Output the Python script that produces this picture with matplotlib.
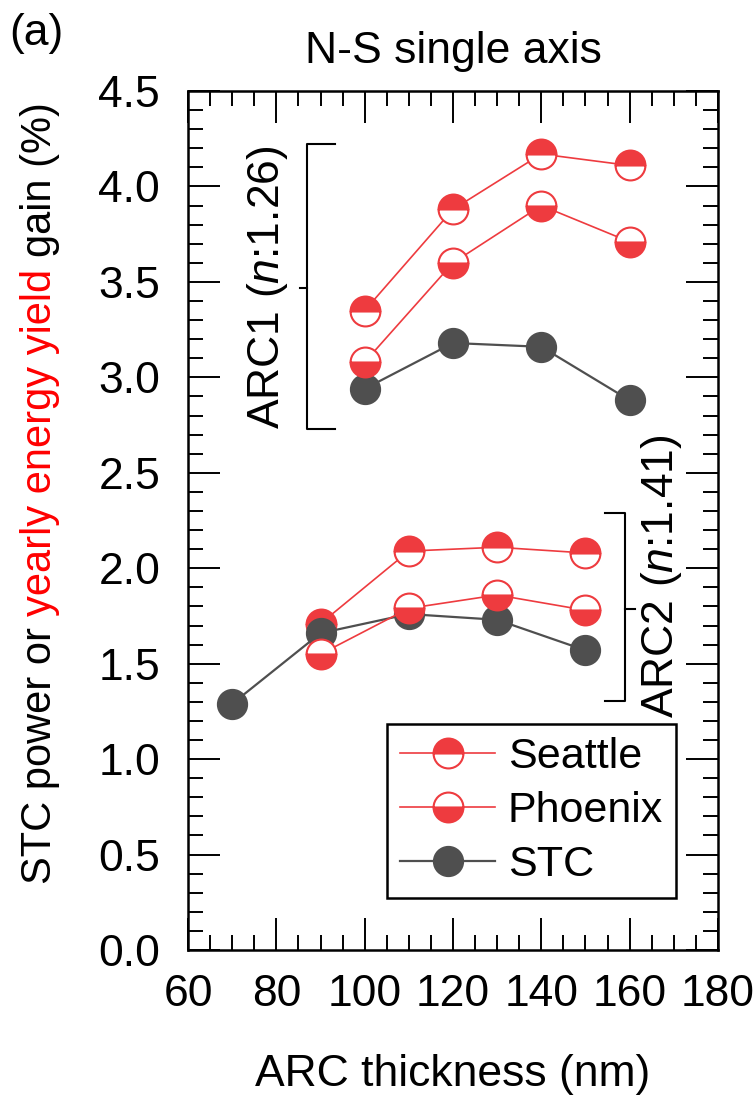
import matplotlib
matplotlib.use("Agg")
import matplotlib.pyplot as plt
from matplotlib.ticker import MultipleLocator

plt.rcParams['font.family'] = ['Liberation Sans', 'DejaVu Sans']
plt.rcParams['mathtext.fontset'] = 'custom'
plt.rcParams['mathtext.rm'] = 'Liberation Sans'
plt.rcParams['mathtext.it'] = 'Liberation Sans:italic'

# ARC1 (n:1.26) data
arc1_x = [100, 120, 140, 160]
arc1_seattle = [3.35, 3.88, 4.17, 4.11]
arc1_phoenix = [3.08, 3.60, 3.90, 3.71]
arc1_stc = [2.94, 3.18, 3.16, 2.88]

# ARC2 (n:1.41) data
arc2_x = [90, 110, 130, 150]
arc2_seattle = [1.71, 2.09, 2.11, 2.08]
arc2_phoenix = [1.55, 1.79, 1.86, 1.78]
arc2_stc_x = [70, 90, 110, 130, 150]
arc2_stc = [1.29, 1.66, 1.76, 1.73, 1.57]

RED = '#ee3b3f'
DARK = '#4f4f4f'
FS = 32

fig = plt.figure(figsize=(7.56, 11.02), dpi=100)
ax = fig.add_axes([0.2487, 0.1379, 0.701, 0.7795])

seattle_kw = dict(color=RED, lw=1.2, marker='o', ms=21.5, fillstyle='top',
                  markerfacecolor=RED, markerfacecoloralt='white',
                  markeredgecolor=RED, markeredgewidth=1.5)
phoenix_kw = dict(seattle_kw, fillstyle='bottom')
stc_kw = dict(color=DARK, lw=1.6, marker='o', ms=21.5,
              markerfacecolor=DARK, markeredgecolor=DARK)

ax.plot(arc1_x, arc1_seattle, label='Seattle', **seattle_kw)
ax.plot(arc1_x, arc1_stc, label='STC', **stc_kw)
ax.plot(arc1_x, arc1_phoenix, label='Phoenix', **phoenix_kw)
ax.plot(arc2_x, arc2_seattle, **seattle_kw)
ax.plot(arc2_stc_x, arc2_stc, **stc_kw)
ax.plot(arc2_x, arc2_phoenix, **phoenix_kw)

ax.set_xlim(60, 180)
ax.set_ylim(0, 4.5)
ax.xaxis.set_major_locator(MultipleLocator(20))
ax.xaxis.set_minor_locator(MultipleLocator(5))
ax.yaxis.set_major_locator(MultipleLocator(0.5))
ax.yaxis.set_minor_locator(MultipleLocator(0.1))
ax.yaxis.set_major_formatter(matplotlib.ticker.FormatStrFormatter('%.1f'))
ax.tick_params(which='both', direction='in', top=True, right=True, width=1.4,
               labelsize=FS)
ax.tick_params(which='major', length=23)
ax.tick_params(which='minor', length=11)
ax.tick_params(axis='y', pad=20)
ax.tick_params(axis='x', pad=17)
for sp in ax.spines.values():
    sp.set_linewidth(1.8)

ax.set_xlabel('ARC thickness (nm)', fontsize=FS, labelpad=28)
ax.set_title('N-S single axis', fontsize=FS, pad=20)
fig.text(0.012, 0.97, '(a)', fontsize=FS, va='center')

# brackets
ax.plot([93.3, 86.9, 86.9, 93.3], [4.22, 4.22, 2.73, 2.73], color='k', lw=1.5,
        clip_on=False)
ax.plot([86.9, 85.3], [3.47, 3.47], color='k', lw=1.5)
ax.text(78.1, 3.47, 'ARC1 ($n$:1.26)', rotation=90, fontsize=FS,
        ha='center', va='center')
ax.plot([154.4, 158.9, 158.9, 154.4], [2.29, 2.29, 1.305, 1.305], color='k', lw=1.5)
ax.plot([158.9, 161.2], [1.785, 1.785], color='k', lw=1.5)
ax.text(167.3, 1.96, 'ARC2 ($n$:1.41)', rotation=90, fontsize=FS,
        ha='center', va='center')

handles, labels = ax.get_legend_handles_labels()
order = [0, 2, 1]
leg = ax.legend([handles[i] for i in order], [labels[i] for i in order],
                loc='lower right', bbox_to_anchor=(0.921, 0.0605),
                borderaxespad=0, fontsize=31, handlelength=2.2,
                handletextpad=0.3, borderpad=0.3, labelspacing=0.33,
                fancybox=False, framealpha=1, edgecolor='k')
leg.get_frame().set_linewidth(1.8)

# two-colour y label, stacked bottom to top
renderer = fig.canvas.get_renderer()
W, H = fig.bbox.width, fig.bbox.height
parts = [('STC power or', 'k'), ('yearly energy yield', 'red'), ('gain (%)', 'k')]
probe1 = fig.text(0, 0, 'o o', fontsize=30)
probe2 = fig.text(0, 0, 'oo', fontsize=30)
space = (probe1.get_window_extent(renderer).width
         - probe2.get_window_extent(renderer).width)
probe1.remove()
probe2.remove()
texts = [fig.text(40 / W, 0, s, color=c, rotation=90, fontsize=30,
                  ha='center', va='bottom') for s, c in parts]
lengths = [t.get_window_extent(renderer).height for t in texts]
total = sum(lengths) + space * (len(parts) - 1)
y = (1102 - 493) - total / 2
for t, l in zip(texts, lengths):
    t.set_y(y / H)
    y += l + space

fig.savefig('out.png', dpi=100)
